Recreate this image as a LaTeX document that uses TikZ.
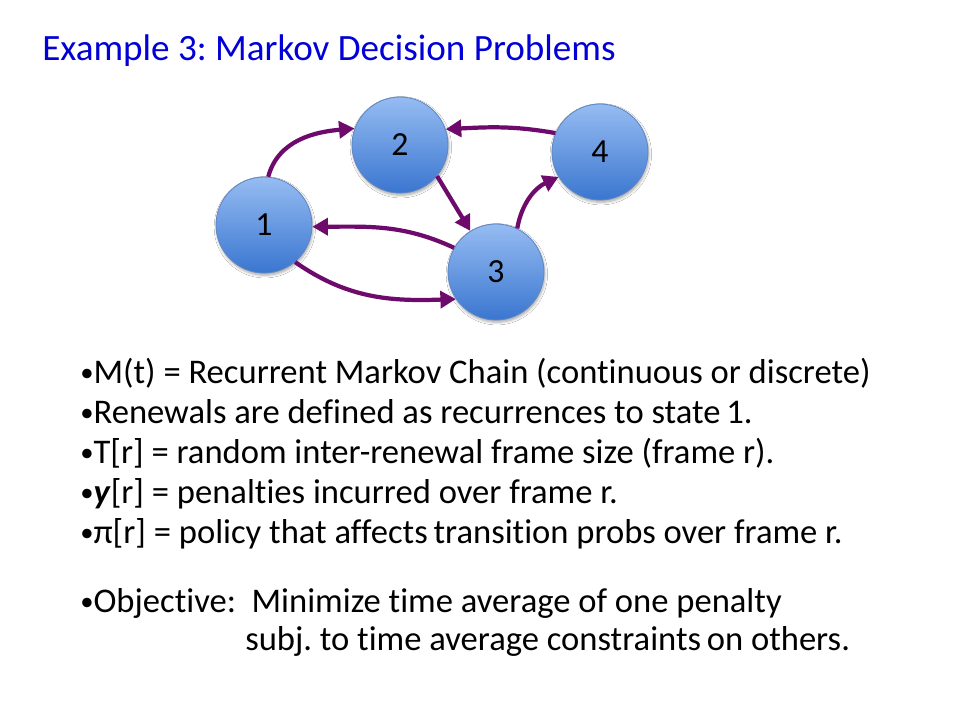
\documentclass[tikz,border=0pt]{standalone}
\usepackage{fontspec}
\setmainfont{Carlito}[Ligatures=NoCommon]
\usepackage{xcolor}
\usetikzlibrary{arrows.meta,shadows.blur}
\definecolor{titleblue}{RGB}{0,0,215}
\definecolor{statetop}{RGB}{150,188,242}
\definecolor{statebottom}{RGB}{58,118,208}
\definecolor{stateborder}{RGB}{95,135,195}
\definecolor{arrowpurple}{RGB}{110,10,108}
\frenchspacing
\newcommand{\bul}{\raisebox{1.2pt}{\fontsize{19}{20}\selectfont•}}
\tikzset{
	state/.style={
			circle, minimum size=2.4cm, inner sep=0pt,
			top color=statetop, bottom color=statebottom,
			draw=stateborder, line width=0.6pt,
			blur shadow={shadow xshift=0.6pt, shadow yshift=-1.6pt, shadow blur steps=6, shadow opacity=35},
			font=\fontsize{24}{28}\selectfont
		},
	trans/.style={
			->, arrowpurple, line width=3pt
		},
	bullet/.style={
			anchor=base west, inner sep=0pt,
			font=\fontsize{24.6}{28}\selectfont
		}
}

\begin{document}
\begin{tikzpicture}[>={Triangle[length=11pt,width=12pt]}]
		\useasboundingbox[fill=white] (0,0) rectangle (24,18);

		\node[bullet, text=titleblue, font=\fontsize{26.4}{30}\selectfont] (title) at (1.05, 16.475) {Example 3: Markov Decision Problems};

		\node[state] (s1) at (6.6, 12.375) {1};
		\node[state] (s2) at (10.0, 14.375) {2};
		\node[state] (s3) at (12.4, 11.2) {3};
		\node[state] (s4) at (15.0, 14.2) {4};

		\draw[trans] (s1.85) to[out=75, in=185] (s2.160);
		\draw[trans] (s2.-40) -- (s3.122);
		\draw[trans] (s3.150) to[out=155, in=0] (s1.-2);
		\draw[trans] (s1.-50) to[out=-35, in=182] (s3.-146);
		\draw[trans] (s3.64) to[out=80, in=205] (s4.211);
		\draw[trans] (s4.157) to[out=170, in=3] (s2.19);

		\node[bullet] (l1) at (2.0, 8.425) {\bul M(t) = Recurrent Markov Chain (continuous or discrete)};
		\node[bullet] (l2) at (2.0, 7.425) {\bul Renewals are defined as recurrences to state\,1.};
		\node[bullet] (l3) at (2.0, 6.425) {\bul T[r] = random inter-renewal frame size (frame r).};
		\node[bullet] (l4) at (2.0, 5.425) {\bul\textbf{\textit{y}}[r] = penalties incurred over frame r.};
		\node[bullet] (l5) at (2.0, 4.425) {\bul π[r] = policy that affects\,transition probs over frame r.};
		\node[bullet] (l6) at (2.0, 2.7) {\bul Objective:\ \ Minimize time average of one penalty};
		\node[bullet] (l7) at (6.125, 1.75) {subj. to time average constraints\,on others.};
	\end{tikzpicture}
\end{document}
